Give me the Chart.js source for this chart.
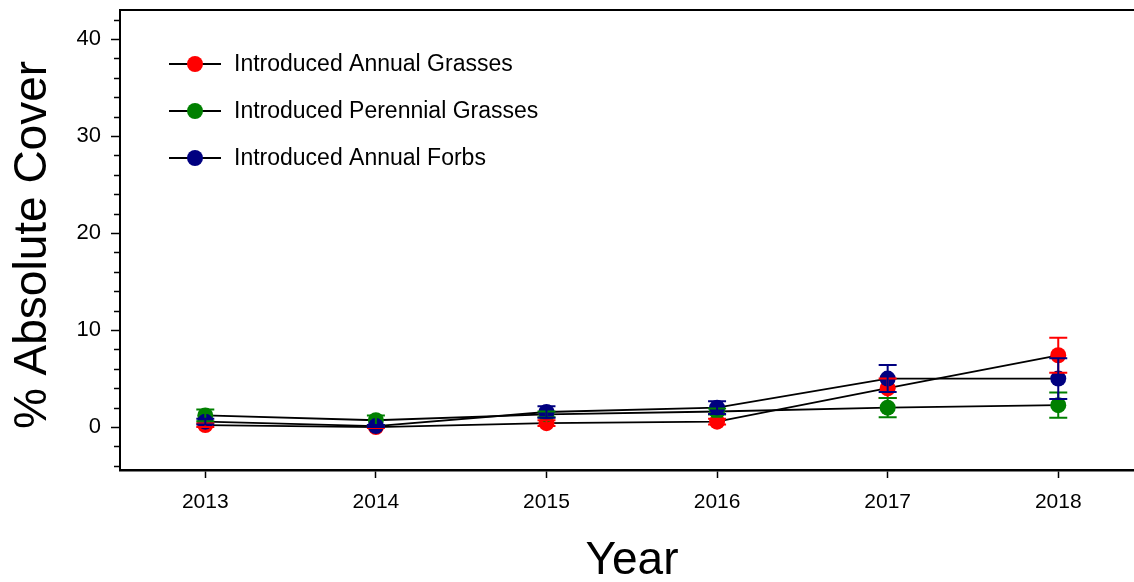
<!DOCTYPE html>
<html>
<head>
<meta charset="utf-8">
<script src="https://cdn.jsdelivr.net/npm/chart.js@4/dist/chart.umd.min.js"></script>
<style>
  html, body { margin: 0; padding: 0; background: #ffffff; }
  canvas { display: block; }
</style>
</head>
<body>
<canvas id="cover" width="1134" height="582"></canvas>
<script>
// Survey years
const years = [2013, 2014, 2015, 2016, 2017, 2018];

// Mean % absolute cover per functional group, with standard errors
const seriesNames = ['Introduced Annual Grasses', 'Introduced Perennial Grasses', 'Introduced Annual Forbs'];
const annualGrasses      = [0.2, 0.0, 0.4, 0.55, 4.0, 7.4];
const annualGrassesErr   = [0.2, 0.1, 0.3, 0.3, 1.0, 1.8];
const perennialGrasses   = [1.2, 0.7, 1.3, 1.6, 2.0, 2.25];
const perennialGrassesErr= [0.6, 0.5, 0.3, 0.3, 1.0, 1.3];
const annualForbs        = [0.55, 0.1, 1.55, 2.0, 5.0, 5.0];
const annualForbsErr     = [0.3, 0.1, 0.6, 0.65, 1.4, 2.1];

// Axis tick values
const yMajorTicks = [0, 10, 20, 30, 40];
const yMinorTicks = [-4, -2, 2, 4, 6, 8, 12, 14, 16, 18, 22, 24, 26, 28, 32, 34, 36, 38, 42];

const FONT = '"Liberation Sans", Arial, Helvetica, sans-serif';
const COLORS = ['#ff0000', '#008000', '#000080'];

const seriesValues = [annualGrasses, perennialGrasses, annualForbs];
const seriesErrors = [annualGrassesErr, perennialGrassesErr, annualForbsErr];

const datasets = seriesNames.map((name, i) => ({
  label: name,
  data: years.map((yr, j) => ({ x: yr, y: seriesValues[i][j] })),
  errors: seriesErrors[i],
  borderColor: '#000000',
  borderWidth: 1.8,
  pointRadius: 8,
  pointHoverRadius: 8,
  pointBorderWidth: 0,
  pointBackgroundColor: COLORS[i],
  pointBorderColor: COLORS[i],
  fill: false,
  tension: 0,
  // forbs drawn on top, then perennial, then annual grasses
  order: 2 - i
}));

// Vertical error bars with caps, drawn over the markers
const errorBars = {
  id: 'errorBars',
  afterDatasetsDraw(chart) {
    const { ctx, scales: { x, y } } = chart;
    ctx.save();
    ctx.lineWidth = 2;
    chart.data.datasets.forEach((ds, i) => {
      ctx.strokeStyle = COLORS[i];
      ds.data.forEach((p, j) => {
        const e = ds.errors[j];
        const px = x.getPixelForValue(p.x);
        const top = y.getPixelForValue(p.y + e);
        const bot = y.getPixelForValue(p.y - e);
        ctx.beginPath();
        ctx.moveTo(px, top); ctx.lineTo(px, bot);
        ctx.moveTo(px - 9, top); ctx.lineTo(px + 9, top);
        ctx.moveTo(px - 9, bot); ctx.lineTo(px + 9, bot);
        ctx.stroke();
      });
    });
    ctx.restore();
  }
};

// Frame top edge, minor y ticks, axis titles and the inset legend
const decorations = {
  id: 'decorations',
  afterDraw(chart) {
    const { ctx, chartArea, scales: { y } } = chart;
    ctx.save();

    // top border
    ctx.strokeStyle = '#000';
    ctx.lineWidth = 2;
    ctx.beginPath();
    ctx.moveTo(chartArea.left - 1, chartArea.top);
    ctx.lineTo(chartArea.right, chartArea.top);
    ctx.stroke();

    // minor ticks on the y axis
    ctx.lineWidth = 1.5;
    ctx.beginPath();
    yMinorTicks.forEach(v => {
      const py = Math.round(y.getPixelForValue(v)) + 0.5;
      ctx.moveTo(chartArea.left - 6, py);
      ctx.lineTo(chartArea.left, py);
    });
    ctx.stroke();

    // axis titles
    ctx.fillStyle = '#000';
    ctx.font = '46px ' + FONT;
    ctx.textAlign = 'center';
    ctx.textBaseline = 'middle';
    ctx.fillText('Year', 632, 561);

    ctx.save();
    ctx.translate(33, 245);
    ctx.rotate(-Math.PI / 2);
    ctx.fillText('% Absolute Cover', 0, 0);
    ctx.restore();

    // legend
    ctx.font = '23px ' + FONT;
    ctx.textAlign = 'left';
    chart.data.datasets.forEach((ds, i) => {
      const ly = 64 + i * 47;
      ctx.strokeStyle = '#000';
      ctx.lineWidth = 1.8;
      ctx.beginPath();
      ctx.moveTo(169, ly);
      ctx.lineTo(221, ly);
      ctx.stroke();
      ctx.fillStyle = COLORS[i];
      ctx.beginPath();
      ctx.arc(195, ly, 8, 0, Math.PI * 2);
      ctx.fill();
      ctx.fillStyle = '#000';
      ctx.fillText(ds.label, 234, ly + 1);
    });

    ctx.restore();
  }
};

new Chart(document.getElementById('cover'), {
  type: 'line',
  data: { datasets },
  plugins: [errorBars, decorations],
  options: {
    responsive: false,
    devicePixelRatio: 1,
    animation: false,
    events: [],
    layout: { autoPadding: false, padding: { top: 10, left: 0, right: 0, bottom: 0 } },
    plugins: {
      legend: { display: false },
      tooltip: { enabled: false },
      title: { display: false }
    },
    scales: {
      x: {
        type: 'linear',
        min: 2012.5,
        max: 2018.444,
        afterBuildTicks: scale => { scale.ticks = years.map(v => ({ value: v })); },
        afterFit: scale => {
          scale.height = 112;
          scale.paddingLeft = 0; scale.paddingRight = 0;
        },
        ticks: {
          callback: v => String(v),
          color: '#000',
          font: { family: FONT, size: 21 },
          padding: 12,
          maxRotation: 0,
          autoSkip: false
        },
        grid: { drawOnChartArea: false, drawTicks: true, tickLength: 8, tickWidth: 1.5, tickColor: '#000' },
        border: { display: true, color: '#000', width: 2.5 }
      },
      y: {
        type: 'linear',
        min: -4.43,
        max: 43,
        afterBuildTicks: scale => { scale.ticks = yMajorTicks.map(v => ({ value: v })); },
        afterFit: scale => {
          scale.width = 120;
          scale.paddingTop = 0; scale.paddingBottom = 0;
        },
        ticks: {
          callback: v => String(v),
          color: '#000',
          font: { family: FONT, size: 22 },
          padding: 10
        },
        grid: { drawOnChartArea: false, drawTicks: true, tickLength: 9, tickWidth: 1.5, tickColor: '#000' },
        border: { display: true, color: '#000', width: 2 }
      }
    }
  }
});
</script>
</body>
</html>
